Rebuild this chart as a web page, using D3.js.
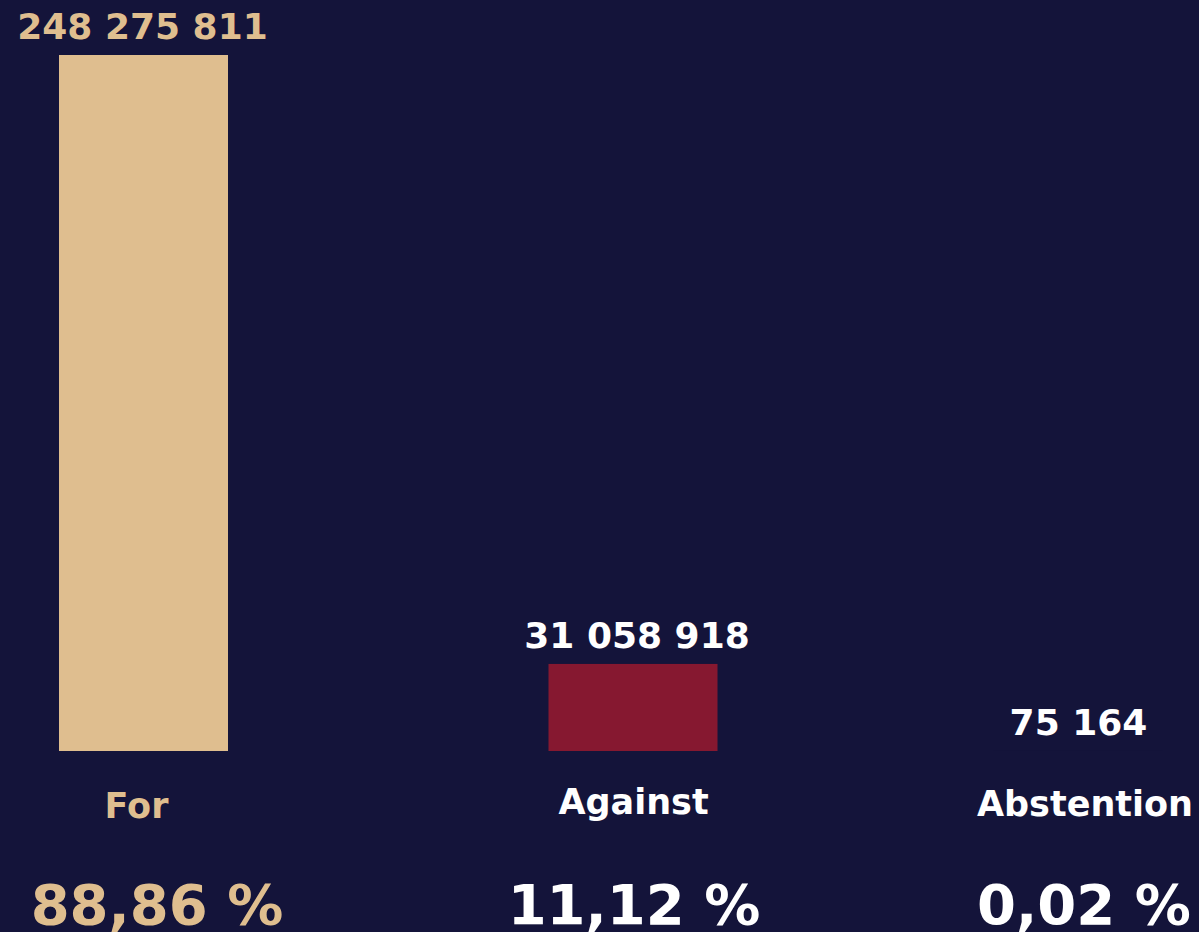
<!DOCTYPE html>
<html>
<head>
<meta charset="utf-8">
<script src="https://cdn.jsdelivr.net/npm/d3@7"></script>
<style>
  html, body { margin: 0; padding: 0; background: #14143a; overflow: hidden; }
  svg { display: block; }
  text { font-family: "DejaVu Sans", Verdana, sans-serif; font-weight: bold; }
</style>
</head>
<body>
<script>
const categories = ["For", "Against", "Abstention"];
const votes = [248275811, 31058918, 75164];
const valueLabels = ["248 275 811", "31 058 918", "75 164"];
const percentLabels = ["88,86 %", "11,12 %", "0,02 %"];
const barColors = ["#dfbe8f", "#861830", "#14143a"];
const textColors = ["#dfbe8f", "#ffffff", "#ffffff"];

const W = 1199, H = 932;
const svg = d3.select("body").append("svg").attr("width", W).attr("height", H);
svg.append("rect").attr("width", W).attr("height", H).attr("fill", "#14143a");

// band centres (layout)
const centres = [143.5, 633, 1078];
const x = d3.scaleOrdinal().domain(categories).range(centres);
const bw = 169;
const y = d3.scaleLinear().domain([0, d3.max(votes)]).range([751, 55]);

const data = categories.map((c, i) => ({ c, v: votes[i], vl: valueLabels[i], pl: percentLabels[i], bc: barColors[i], tc: textColors[i], i }));

// label offsets (layout)
const valDx = [-1, 4, 0.5];
const catDx = [-7, 0.5, 7];
const catY = [818, 814, 816];
const pctDx = [13.5, 1, 6];

svg.selectAll("rect.bar").data(data).enter().append("rect")
  .attr("class", "bar")
  .attr("x", d => x(d.c) - bw / 2)
  .attr("width", bw)
  .attr("y", d => y(d.v))
  .attr("height", d => y(0) - y(d.v))
  .attr("fill", d => d.bc);

svg.selectAll("text.val").data(data).enter().append("text")
  .attr("class", "val")
  .attr("x", d => x(d.c) + valDx[d.i])
  .attr("y", d => y(d.v) - 16)
  .attr("text-anchor", "middle")
  .attr("font-size", 36)
  .attr("fill", d => d.tc)
  .text(d => d.vl);

svg.selectAll("text.cat").data(data).enter().append("text")
  .attr("class", "cat")
  .attr("x", d => x(d.c) + catDx[d.i])
  .attr("y", d => catY[d.i])
  .attr("text-anchor", "middle")
  .attr("font-size", 35)
  .attr("fill", d => d.tc)
  .text(d => d.c);

svg.selectAll("text.pct").data(data).enter().append("text")
  .attr("class", "pct")
  .attr("x", d => x(d.c) + pctDx[d.i])
  .attr("y", 924)
  .attr("text-anchor", "middle")
  .attr("font-size", 56)
  .attr("fill", d => d.tc)
  .text(d => d.pl);
</script>
</body>
</html>
